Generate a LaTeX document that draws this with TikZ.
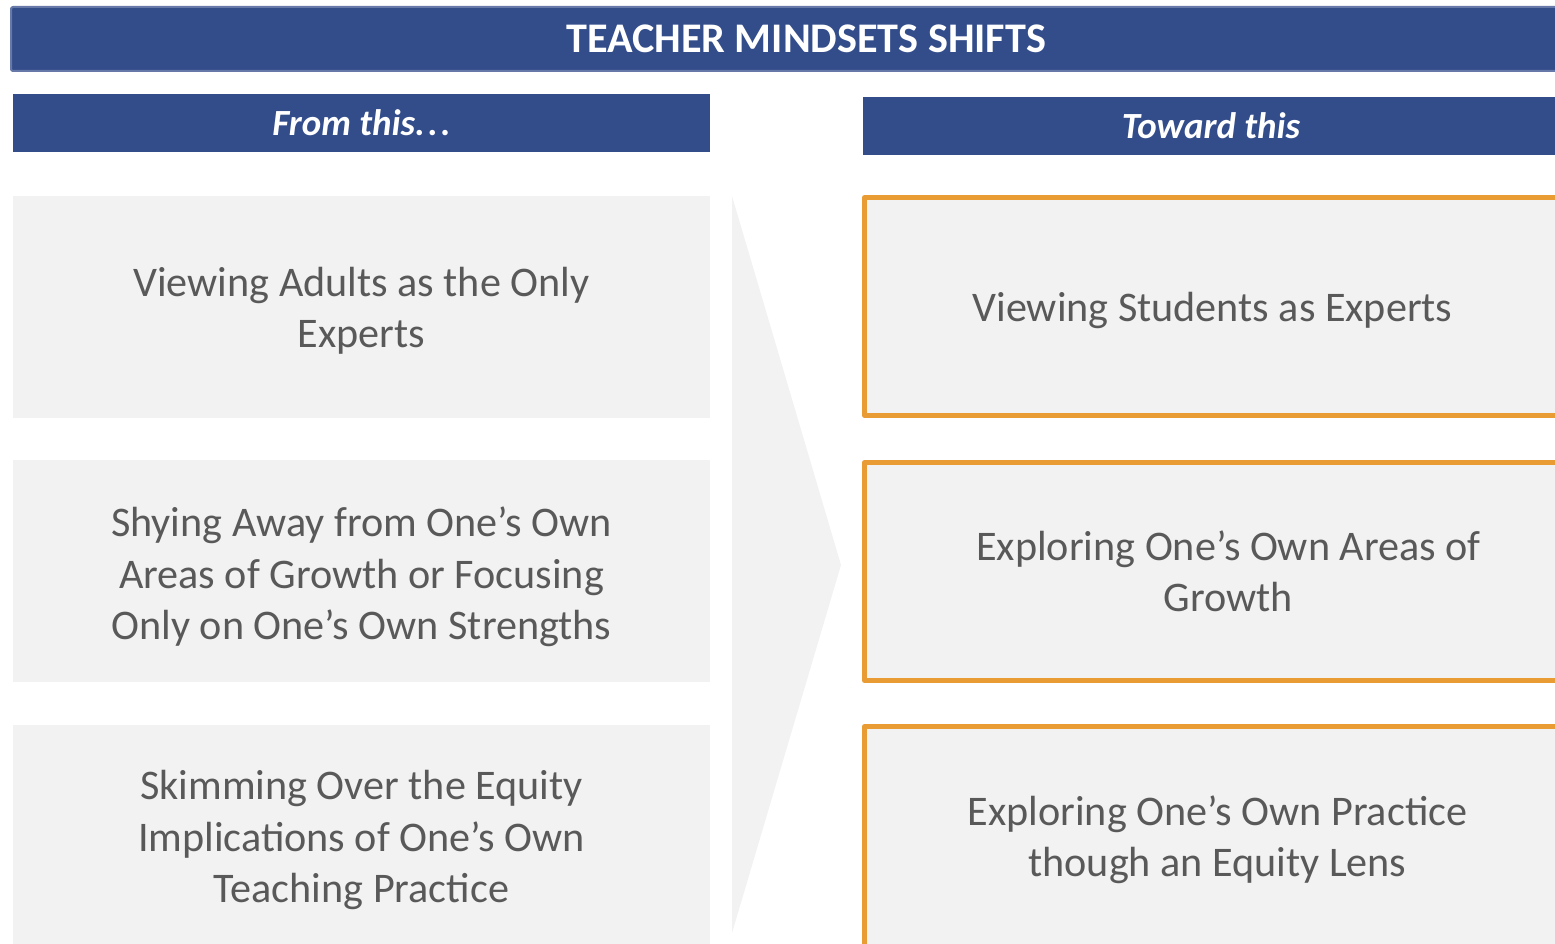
\documentclass[tikz,border=0pt]{standalone}
\usepackage{fontspec}
\setmainfont{Carlito}
\usetikzlibrary{positioning}
\definecolor{barblue}{HTML}{334D8B}
\definecolor{boxgray}{HTML}{F2F2F2}
\definecolor{rimorange}{HTML}{E99B34}
\definecolor{txtgray}{HTML}{595959}
\begin{document}
\begin{tikzpicture}[x=0.1mm, y=-0.1mm, line join=round,
		banner/.style={fill=barblue, text=white, inner sep=0pt, outer sep=0pt, anchor=north west},
		oldbox/.style={fill=boxgray, inner sep=0pt, outer sep=0pt, anchor=north west, minimum width=69.7mm, minimum height=22.2mm},
		newbox/.style={fill=boxgray, draw=rimorange, line width=0.5mm, inner sep=0pt, anchor=north west, minimum width=72mm, minimum height=21.8mm},
		says/.style={text=txtgray, align=center, yshift=-0.4mm, font=\fontsize{12}{14.6}\selectfont}]
		\useasboundingbox (0,0) rectangle (1555,944);
		\clip (0,0) rectangle (1555,944);
		% title bar runs off the right edge
		\draw[fill=barblue, draw=barblue!75!white, line width=0.2mm, rounded corners=0.2mm] (11,7) rectangle (1640,71);
		\node[text=white, font=\fontsize{12}{14}\selectfont\bfseries] (title) at (806,39) {TEACHER MINDSETS SHIFTS};
		% the two column heads
		\node[banner, minimum width=69.7mm, minimum height=5.8mm, font=\fontsize{10.5}{12}\selectfont\bfseries\itshape] (fromhead) at (13,94) {From this.\kern0.08em.\kern0.08em.};
		\node[banner, minimum width=69.6mm, minimum height=5.8mm, font=\fontsize{10.5}{12}\selectfont\bfseries\itshape] (towardhead) at (863,97) {Toward this};
		% big chevron between the columns
		\fill[boxgray] (732,196) -- (841,565) -- (732,933) -- cycle;
		% boxes, old mindset on the left, new one on the right (last row runs off the bottom)
		\foreach \y/\n in {196/1,460/2} \node[oldbox] (old\n) at (13,\y) {};
		\node[oldbox] (old3) at (13,725) {};
		\fill[boxgray] (old3.south west) rectangle ([yshift=-3mm]old3.south east);
		\foreach \y/\n in {195/1,460/2} \node[newbox] (new\n) at (862,\y) {};
		\node[newbox, minimum height=23mm] (new3) at (862,724) {};
		\node[says] (oldtext1) at (old1.center) {Viewing Adults as the Only\\Experts};
		\node[says, yshift=-0.2mm] (oldtext2) at (old2.center) {Shying Away from One’s Own\\Areas of Growth or Focusing\\Only on One’s Own Strengths};
		\node[says] (oldtext3) at (old3.center) {Skimming Over the Equity\\Implications of One’s Own\\Teaching Practice};
		\node[says, xshift=-1.2mm] (newtext1) at (new1.center) {Viewing Students as Experts};
		\node[says, xshift=0.4mm, yshift=0.4mm] (newtext2) at (new2.center) {Exploring One’s Own Areas of\\Growth};
		\node[says, xshift=-0.7mm, yshift=0.6mm] (newtext3) at (new3.center) {Exploring One’s Own Practice\\though an Equity Lens};
\end{tikzpicture}
\end{document}
